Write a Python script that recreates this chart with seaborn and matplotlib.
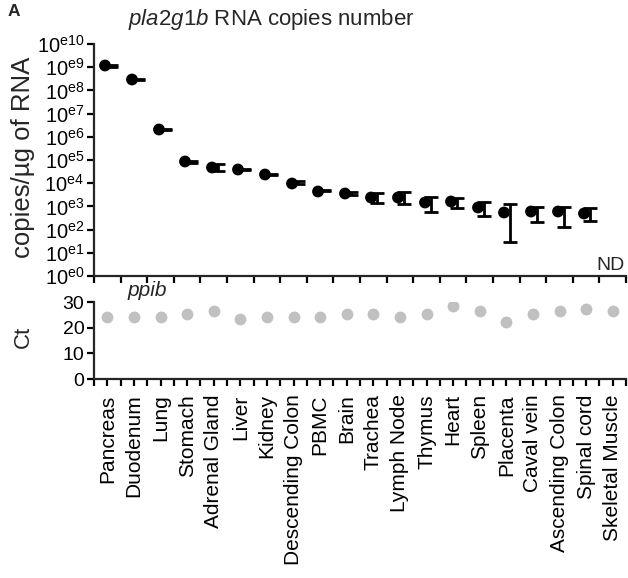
import numpy as np
import pandas as pd
import matplotlib
matplotlib.use("Agg")
import matplotlib.pyplot as plt
import matplotlib.transforms as mtransforms
import seaborn as sns

tissues = ["Pancreas", "Duodenum", "Lung", "Stomach", "Adrenal Gland", "Liver",
           "Kidney", "Descending Colon", "PBMC", "Brain", "Trachea", "Lymph Node",
           "Thymus", "Heart", "Spleen", "Placenta", "Caval vein", "Ascending Colon",
           "Spinal cord", "Skeletal Muscle"]
copies = [1.23e9, 3.1e8, 2.2e6, 9.1e4, 5.1e4, 4.0e4, 2.4e4, 1.05e4, 4.8e3, 3.9e3,
          2.6e3, 2.6e3, 1.6e3, 1.7e3, 910, 590, 650, 630, 540, np.nan]
copies_low = [1.07e9, 2.8e8, 2.0e6, 7.6e4, 3.5e4, 3.55e4, 2.15e4, 8.9e3, 4.6e3, 3.2e3,
              1.35e3, 1.26e3, 550, 830, 400, 28, 205, 132, 240, np.nan]
copies_high = [1.26e9, 3.2e8, 2.25e6, 9.3e4, 6.8e4, 4.2e4, 2.5e4, 1.3e4, 4.9e3, 4.2e3,
               3.9e3, 4.3e3, 2.6e3, 2.4e3, 1.6e3, 1.26e3, 910, 980, 830, np.nan]
ct_ppib = [24.3, 24.3, 24.3, 25.3, 26.4, 23.3, 24.3, 24.3, 24.3, 25.3,
           25.3, 24.3, 25.3, 28.4, 26.4, 22.2, 25.3, 26.4, 27.4, 26.4]
nd_labels = ["", "", "", "", "", "", "", "", "", "", "", "", "", "", "", "", "", "", "", "ND"]

df = pd.DataFrame({"tissue": tissues, "copies": copies, "low": copies_low,
                   "high": copies_high, "ct": ct_ppib, "nd": nd_labels})

sns.set_theme(style="ticks")
plt.rcParams["font.family"] = ["Liberation Sans", "DejaVu Sans"]
plt.rcParams["mathtext.fontset"] = "custom"
plt.rcParams["mathtext.rm"] = "Liberation Sans"
plt.rcParams["mathtext.it"] = "Liberation Sans:italic"

W, H = 628, 578
fig = plt.figure(figsize=(W / 100, H / 100), dpi=100)
L, R = 94, 626
ax1 = fig.add_axes([L / W, 1 - 276 / H, (R - L) / W, (276 - 44) / H])
ax2 = fig.add_axes([L / W, 1 - 379 / H, (R - L) / W, (379 - 302) / H])

n = len(tissues)
xpos = np.arange(n)

# top panel
ax1.set_yscale("log")
sns.stripplot(data=df, x="tissue", y="copies", order=tissues, jitter=False,
              color="black", size=8.5, linewidth=0, ax=ax1, zorder=3)
for coll in ax1.collections:
    coll.set_transform(coll.get_transform() +
                       mtransforms.ScaledTranslation(-2.5 / 100, 0, fig.dpi_scale_trans))
cval = df["copies"].to_numpy()
yerr = np.vstack([cval - df["low"].to_numpy(), df["high"].to_numpy() - cval])
eb = ax1.errorbar(xpos, cval, yerr=yerr, fmt="none", ecolor="black",
                  elinewidth=2, capsize=4.8, capthick=2, zorder=2)
off = ax1.transData + mtransforms.ScaledTranslation(4 / 100, 0, fig.dpi_scale_trans)
for cl in eb.lines[1]:
    cl.set_transform(off)
for lc in eb.lines[2]:
    lc.set_transform(off)

ax1.set_ylim(1, 1e10)
ax1.set_xlim(-0.5, n - 0.5)
ax1.set_yticks([10.0 ** k for k in range(11)])
ax1.set_yticklabels([r"10$^{\mathregular{e%d}}$" % k for k in range(11)])
ax1.yaxis.set_minor_locator(matplotlib.ticker.NullLocator())
ax1.set_xticks(np.arange(-0.5, n, 1.0))
ax1.set_xticklabels([])
ax1.set_xlabel("")
ax1.set_ylabel("copies/µg of RNA", fontsize=18.5)
ax1.yaxis.set_label_coords((35 - L) / (R - L), (276 - 157) / 232)
for i, t in enumerate(df["nd"]):
    if t:
        ax1.text(xpos[i] + 0.45, 1.2, t, ha="right", va="bottom", fontsize=14)

# bottom panel
sns.stripplot(data=df, x="tissue", y="ct", order=tissues, jitter=False,
              color="#c0c0c0", size=8.5, linewidth=0, ax=ax2)
ax2.set_ylim(0, 30)
ax2.set_xlim(-0.5, n - 0.5)
ax2.set_yticks([0, 10, 20, 30])
ax2.set_xticks(np.arange(n))
ax2.set_xticklabels(tissues, rotation=90)
ax2.set_xticks(np.arange(-0.5, n, 1.0), minor=True)
ax2.tick_params(axis="x", which="major", length=0, pad=6, labelsize=15)
ax2.set_xlabel("")
ax2.set_ylabel("Ct", fontsize=16)
ax2.yaxis.set_label_coords((34 - L) / (R - L), (379 - 337) / 77)

for ax, ls in ((ax1, 14.5), (ax2, 14)):
    sns.despine(ax=ax)
    ax.spines["left"].set_linewidth(1.6)
    ax.spines["bottom"].set_linewidth(1.6)
    ax.tick_params(axis="y", labelsize=ls, width=1.6, length=5, pad=2, colors="black")
    ax.tick_params(axis="x", which="both", width=1.6, length=5, colors="black")
    ax.set_facecolor("none")
ax2.tick_params(axis="x", which="minor", width=1.6, length=5)
ax1.tick_params(axis="x", which="major", width=1.6, length=5)

fig.text(8 / W, 1 - 12 / H, "A", fontsize=12.5, fontweight="bold", va="center", ha="left")
fig.text(128 / W, 1 - 20 / H, r"$\mathit{pla2g1b}$ RNA copies number", fontsize=16,
         va="center", ha="left")
fig.text(128 / W, 1 - 290 / H, "ppib", fontsize=15, style="italic", va="center", ha="left")

fig.savefig("out.png", dpi=100)
